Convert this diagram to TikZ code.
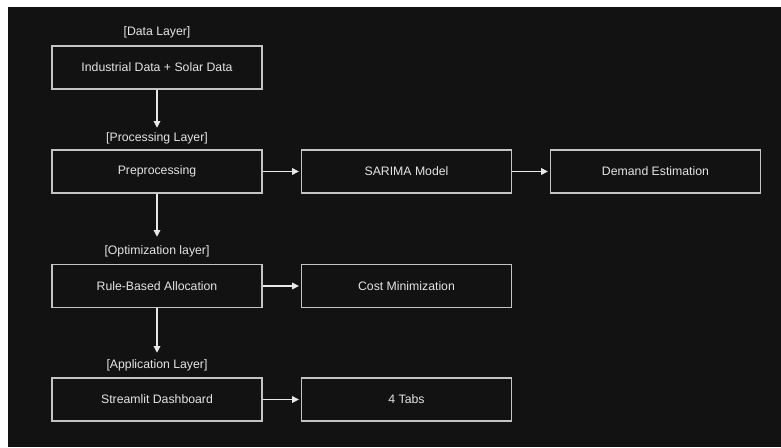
\documentclass[tikz,border=0pt]{standalone}
\usepackage{fontspec}
\setmainfont{Liberation Sans}
\usetikzlibrary{arrows.meta}
\definecolor{bgdark}{HTML}{121212}
\definecolor{boxline}{HTML}{C4C4C4}
\definecolor{txt}{HTML}{E4E4E4}
\definecolor{arrcol}{HTML}{E8E8E8}
\begin{document}
\begin{tikzpicture}[x=0.75pt,y=-0.75pt,
  stagebox/.style={draw=boxline, line width=1pt, minimum width=157.5pt, minimum height=32.25pt,
    inner sep=0pt, text=txt, font=\fontsize{9.2}{11}\selectfont},
  layerlabel/.style={inner sep=0pt, text height=7pt, text depth=2pt, text=txt,
    font=\fontsize{9.2}{11}\selectfont},
  flow/.style={draw=arrcol, line width=0.8pt, -{Triangle[length=5pt,width=5pt]}}]
\useasboundingbox (0,0) rectangle (781,447);
\fill[white] (0,0) rectangle (781,447);
\fill[bgdark] (8,7) rectangle (781,447);

\node[layerlabel] (ldata) at (157,32) {[Data Layer]};
\node[stagebox] (ind) at (157,67.5) {Industrial Data + Solar Data};

\node[layerlabel] (lproc) at (157,138) {[Processing Layer]};
\node[stagebox] (pre) at (157,171.5) {Preprocessing};
\node[stagebox] (sar) at (406.5,171.5) {SARIMA Model};
\node[stagebox] (dem) at (655.5,171.5) {Demand Estimation};

\node[layerlabel] (lopt) at (157,251) {[Optimization layer]};
\node[stagebox] (rule) at (157,286) {Rule-Based Allocation};
\node[stagebox] (cost) at (406.5,286) {Cost Minimization};

\node[layerlabel] (lapp) at (157,365) {[Application Layer]};
\node[stagebox] (str) at (157,399.5) {Streamlit Dashboard};
\node[stagebox] (tabs) at (406.5,399.5) {4 Tabs};

\draw[flow, shorten >=3pt] (ind.south) -- (lproc.north);
\draw[flow, shorten >=6pt] (pre.south) -- (lopt.north);
\draw[flow, shorten >=4.5pt] (rule.south) -- (lapp.north);

\draw[flow, shorten >=1.5pt] (pre.east) -- (sar.west);
\draw[flow, shorten >=1.5pt] (sar.east) -- (dem.west);
\draw[flow, shorten >=1.5pt] (rule.east) -- (cost.west);
\draw[flow, shorten >=1.5pt] (str.east) -- (tabs.west);
\end{tikzpicture}
\end{document}
